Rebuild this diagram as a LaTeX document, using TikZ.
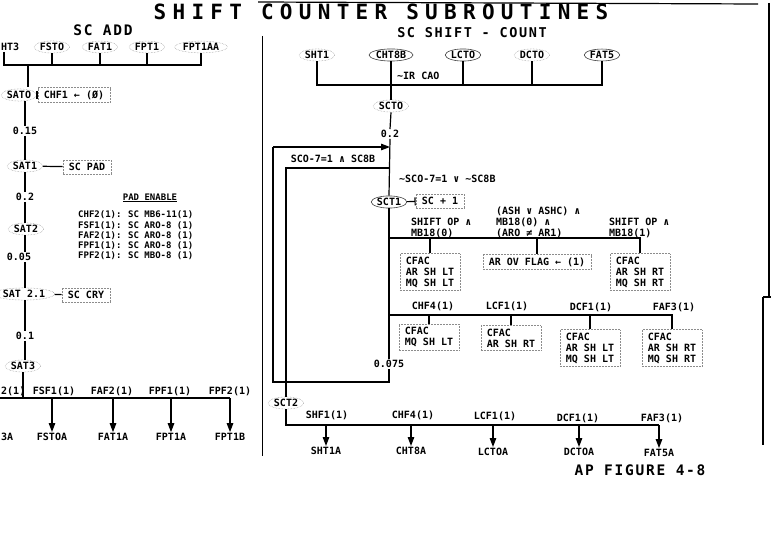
\documentclass[tikz,border=0pt]{standalone}
\usepackage{fontspec}
\usetikzlibrary{shapes.geometric,arrows.meta}
\newfontfamily\lblfont{DejaVu Sans Mono}
\newfontfamily\ttlfont{DejaVu Sans Mono}[LetterSpace=30]
\newfontfamily\subfont{DejaVu Sans Mono}[LetterSpace=12]
\newcommand\myL{\lblfont\bfseries\fontsize{10}{11}\selectfont}
\newcommand\myS{\lblfont\bfseries\fontsize{9}{10.5}\selectfont}
\newcommand\myT{\ttlfont\bfseries\fontsize{21}{22}\selectfont}
\newcommand\myU{\subfont\bfseries\fontsize{14.5}{16}\selectfont}
\newcommand\myV{\subfont\bfseries\fontsize{13.5}{15}\selectfont}
\newcommand\myF{\subfont\bfseries\fontsize{14.5}{16}\selectfont}
\begin{document}
\begin{tikzpicture}[x=1pt,y=-1pt,
  ln/.style={line width=1.2pt},
  arr/.style={line width=1.2pt,-{Triangle[length=9pt,width=6.5pt]}},
  barr/.style={line width=1.2pt,-{Bar[width=8pt]}},
  ent/.style={ellipse,draw=black!45,densely dotted,line width=0.5pt,inner sep=0.5pt,font=\myL},
  ents/.style={ellipse,draw=black!75,line width=0.6pt,inner sep=0.5pt,font=\myL},
  lbl/.style={font=\myL,inner sep=1pt},
  pad/.style={font=\myS,inner sep=0pt,anchor=west},
  dbox/.style={draw=black!45,densely dotted,line width=0.5pt,inner xsep=6pt,inner ysep=3pt,font=\myL,align=left}]
\useasboundingbox (0,0) rectangle (771,540);

% frame
\draw[ln] (258,2) -- (758,4);
\draw[ln] (769,3) -- (769,297);
\draw[ln] (763,297) -- (771,297);
\draw[ln] (763,297) -- (763,445);
\draw[line width=1pt] (262,36) -- (262,456);

% titles
\node[font=\myT] (title) at (381,12) {SHIFT COUNTER SUBROUTINES};
\node[font=\myU] (tadd) at (103,30) {SC ADD};
\node[font=\myV] (tsc) at (472,33) {SC SHIFT - COUNT};
\node[font=\myF] (fig) at (640,470) {AP FIGURE 4-8};

% ---------------- SC ADD ----------------
\node[lbl,anchor=west] (ht3) at (0,47) {HT3};
\node[ent] (fst0) at (52,47) {FSTO};
\node[ent] (fat1) at (100,47) {FAT1};
\node[ent] (fpt1) at (147,47) {FPT1};
\node[ent] (fpt1aa) at (201,47) {FPT1AA};
\coordinate (busL) at (4,65);
\draw[ln] (ht3.south -| busL) -- (busL) -- (busL -| fpt1aa.south) -- (fpt1aa.south);
\foreach \n in {fst0,fat1,fpt1} \draw[ln] (\n.south) -- (\n.south |- busL);

\node[ent] (sat0) at (19,95) {SATO};
\node[lbl] (n015) at (25,131) {0.15};
\node[ent] (sat1) at (25,166) {SAT1};
\node[lbl] (n02a) at (25,197) {0.2};
\node[ent] (sat2) at (26,229) {SAT2};
\node[lbl] (n005) at (19,257) {0.05};
\node[ent] (sat21) at (24,294) {SAT 2.1};
\node[lbl] (n01) at (25,336) {0.1};
\node[ent] (sat3) at (23,366) {SAT3};
\coordinate (colA) at (25,0);
\draw[ln] (busL -| 28,0) -- (28,87);
\draw[ln] (sat0.south -| colA) -- (n015.north -| colA);
\draw[ln] (n015.south -| colA) -- (sat1.north -| colA);
\draw[ln] (sat1.south -| colA) -- (n02a.north -| colA);
\draw[ln] (n02a.south -| colA) -- (sat2.north -| colA);
\draw[ln] (sat2.south -| colA) -- (n005.north -| colA);
\draw[ln] (n005.south -| colA) -- (sat21.north -| colA);
\draw[ln] (sat21.south -| colA) -- (n01.north -| colA);
\draw[ln] (n01.south -| colA) -- (sat3.north -| colA);

\node[dbox] (chf1) at (74,95) {CHF1 ← (Ø)};
\draw[barr] (sat0) -- (chf1);
\node[dbox] (scpad) at (87,167) {SC PAD};
\draw[ln] (sat1) -- (scpad);
\node[dbox] (sccry) at (86,295) {SC CRY};
\draw[ln] (sat21) -- (sccry);

\node[font=\myS,inner sep=1pt] (padt) at (150,198) {\underline{PAD ENABLE}};
\foreach \y/\a/\b in {215/CHF2(1):/SC MB6-11(1),226/FSF1(1):/SC ARO-8 (1),236/FAF2(1):/SC ARO-8 (1),246/FPF1(1):/SC ARO-8 (1),256/FPF2(1):/SC MBO-8 (1)}{
  \node[pad] (pa\y) at (78,\y) {\a};
  \node[pad] (pb\y) at (128,\y) {\b};
}

\coordinate (bbL) at (0,398);
\node[lbl,anchor=west] (l2) at (0,391) {2(1)};
\node[lbl] (fsf1) at (54,391) {FSF1(1)};
\node[lbl] (faf2) at (112,391) {FAF2(1)};
\node[lbl] (fpf1) at (170,391) {FPF1(1)};
\node[lbl] (fpf2) at (230,391) {FPF2(1)};
\node[lbl,anchor=west] (a3) at (0,437) {3A};
\node[lbl] (fst0a) at (52,437) {FSTOA};
\node[lbl] (fat1a) at (113,437) {FAT1A};
\node[lbl] (fpt1a) at (171,437) {FPT1A};
\node[lbl] (fpt1b) at (230,437) {FPT1B};
\draw[ln] (sat3.south) -- (sat3.south |- bbL);
\draw[ln] (bbL) -- (bbL -| fpt1b);
\foreach \n in {fst0a,fat1a,fpt1a,fpt1b} \draw[arr] (bbL -| \n) -- (\n.north);

% ---------------- SC SHIFT-COUNT ----------------
\node[ent] (sht1) at (317,55) {SHT1};
\node[ents] (cht8b) at (391,55) {CHT8B};
\node[ents] (lct0) at (463,55) {LCTO};
\node[ent] (dct0) at (532,55) {DCTO};
\node[ents] (fat5) at (602,55) {FAT5};
\coordinate (tb) at (0,85);
\draw[ln] (sht1.south) |- (tb -| fat5) -- (fat5.south);
\draw[ln] (lct0.south) -- (lct0.south |- tb);
\draw[ln] (dct0.south) -- (dct0.south |- tb);
\node[ent] (sct0) at (391,106) {SCTO};
\draw[ln] (cht8b.south) -- (sct0.north);
\node[lbl,anchor=west] (ircao) at (396,76) {\textasciitilde IR CAO};
\node[lbl] (n02b) at (390,134) {0.2};
\draw[ln] (sct0.south) -- (n02b.north);

\node[ents] (sct1) at (389,202) {SCT1};
\draw[ln] (n02b.south) -- (sct1.north);
\node[lbl] (n075) at (389,364) {0.075};
\draw[ln] (sct1.south) -- (n075.north);
\coordinate (lpT) at (273,147);
\coordinate (lpB) at (273,382);
\draw[ln] (n075.south) -- (n075.south |- lpB) -- (lpB) -- (lpT);
\draw[arr] (lpT) -- (lpT -| n02b);
\node[lbl] (c1) at (333,159) {SCO-7=1 ∧ SC8B};
\node[ent] (sct2) at (286,403) {SCT2};
\coordinate (ib) at (389,168);
\draw[ln] (ib) -| (sct2.north);
\node[lbl,anchor=west] (c2) at (398,179) {\textasciitilde SCO-7=1 ∨ \textasciitilde SC8B};

\node[dbox] (scp1) at (440,201) {SC + 1};
\draw[barr] (sct1) -- (scp1);

% branch 1
\coordinate (b1) at (389,238);
\node[lbl,anchor=west,align=left] (s1) at (410,228) {SHIFT OP ∧\\MB18(0)};
\node[lbl,anchor=west,align=left] (s2) at (495,222) {(ASH ∨ ASHC) ∧\\MB18(0) ∧\\(ARO ≠ AR1)};
\node[lbl,anchor=west,align=left] (s3) at (608,228) {SHIFT OP ∧\\MB18(1)};
\node[dbox] (bx1) at (430,272) {CFAC\\AR SH LT\\MQ SH LT};
\node[dbox] (bx2) at (537,262) {AR OV FLAG ← (1)};
\node[dbox] (bx3) at (640,272) {CFAC\\AR SH RT\\MQ SH RT};
\draw[ln] (b1) -| (bx3.north);
\draw[ln] (b1 -| bx1) -- (bx1.north);
\draw[ln] (b1 -| bx2) -- (bx2.north);

% branch 2
\coordinate (b2) at (389,315);
\node[lbl] (r1) at (433,306) {CHF4(1)};
\node[lbl] (r2) at (507,306) {LCF1(1)};
\node[lbl] (r3) at (591,307) {DCF1(1)};
\node[lbl] (r4) at (674,307) {FAF3(1)};
\node[dbox] (bx4) at (429,337) {CFAC\\MQ SH LT};
\node[dbox] (bx5) at (511,338) {CFAC\\AR SH RT};
\node[dbox] (bx6) at (590,348) {CFAC\\AR SH LT\\MQ SH LT};
\node[dbox] (bx7) at (672,348) {CFAC\\AR SH RT\\MQ SH RT};
\draw[ln] (b2) -| (bx7.north);
\foreach \n in {bx4,bx5,bx6} \draw[ln] (b2 -| \n) -- (\n.north);

% exits
\coordinate (b3) at (0,425);
\node[lbl] (q1) at (327,415) {SHF1(1)};
\node[lbl] (q2) at (413,415) {CHF4(1)};
\node[lbl] (q3) at (495,416) {LCF1(1)};
\node[lbl] (q4) at (578,418) {DCF1(1)};
\node[lbl] (q5) at (662,418) {FAF3(1)};
\node[lbl] (sht1a) at (326,451) {SHT1A};
\node[lbl] (cht8a) at (411,451) {CHT8A};
\node[lbl] (lct0a) at (493,452) {LCTOA};
\node[lbl] (dct0a) at (579,452) {DCTOA};
\node[lbl] (fat5a) at (659,453) {FAT5A};
\draw[ln] (sct2.south) -- (sct2.south |- b3) -- (b3 -| fat5a);
\foreach \n in {sht1a,cht8a,lct0a,dct0a,fat5a} \draw[arr] (b3 -| \n) -- (\n.north);
\end{tikzpicture}
\end{document}
